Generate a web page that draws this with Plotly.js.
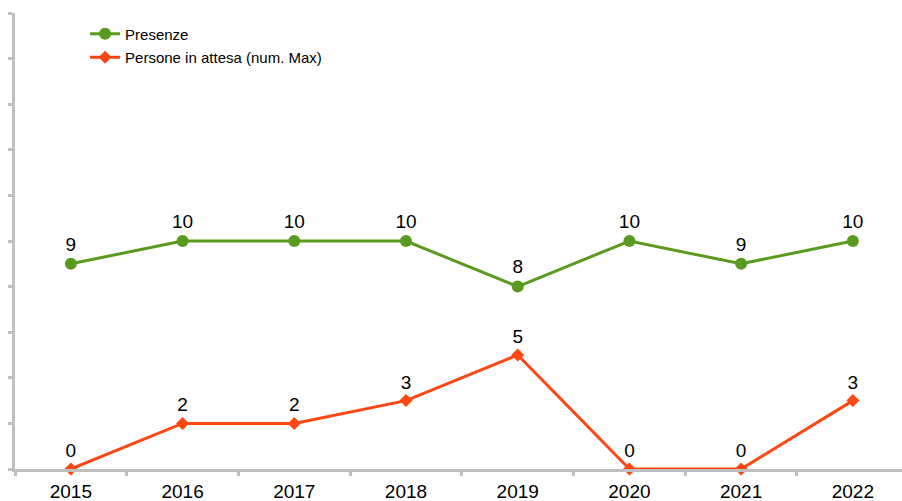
<!DOCTYPE html>
<html>
<head>
<meta charset="utf-8">
<script src="https://cdn.plot.ly/plotly-3.0.1.min.js"></script>
<style>html,body{margin:0;padding:0;background:#fff}#chart{width:902px;height:501px}</style>
</head>
<body>
<div id="chart"></div>
<script>
var years = ["2015","2016","2017","2018","2019","2020","2021","2022"];
var presenze = [9,10,10,10,8,10,9,10];
var attesa = [0,2,2,3,5,0,0,3];
var nomePresenze = "Presenze";
var nomeAttesa = "Persone in attesa (num. Max)";

var traces = [
  {x: years, y: presenze, name: nomePresenze, legendgroup: "a", type: "scatter", mode: "lines+markers+text",
   text: presenze.map(String), textposition: "top center", cliponaxis: false,
   textfont: {size: 19, color: "#000", family: "Liberation Sans, Arial, sans-serif"},
   line: {color: "#5a9b1f", width: 3}, marker: {symbol: "circle", size: 12, color: "#5a9b1f"}},
  {x: years, y: attesa, name: nomeAttesa, legendgroup: "b", type: "scatter", mode: "lines+markers+text",
   text: attesa.map(String), textposition: "top center", cliponaxis: false,
   textfont: {size: 19, color: "#000", family: "Liberation Sans, Arial, sans-serif"},
   line: {color: "#ff4713", width: 3}, marker: {symbol: "diamond", size: 10, color: "#ff4713"}}
];

var layout = {
  width: 902, height: 501,
  margin: {l: 15, r: 0, t: 13, b: 32},
  paper_bgcolor: "#fff", plot_bgcolor: "#fff",
  font: {family: "Liberation Sans, Arial, sans-serif", color: "#000"},
  showlegend: true,
  legend: {x: 0.079, y: 0.99, xanchor: "left", yanchor: "top", font: {size: 15}, bgcolor: "rgba(0,0,0,0)",
           traceorder: "grouped", tracegroupgap: 1},
  xaxis: {type: "category", range: [-0.5, 7.44], showline: true, linecolor: "#bfbfbf", linewidth: 3,
          ticks: "outside", tickson: "boundaries", ticklen: 4, tickwidth: 3, tickcolor: "#bfbfbf",
          ticklabelstandoff: 3,
          showgrid: false, zeroline: false, tickfont: {size: 19, color: "#000"}},
  yaxis: {range: [0, 20], dtick: 2, showticklabels: false, showline: true, linecolor: "#bfbfbf", linewidth: 3,
          ticks: "outside", ticklen: 4, tickwidth: 3, tickcolor: "#bfbfbf", showgrid: false, zeroline: false}
};

Plotly.newPlot("chart", traces, layout, {displayModeBar: false, staticPlot: true});
</script>
</body>
</html>
